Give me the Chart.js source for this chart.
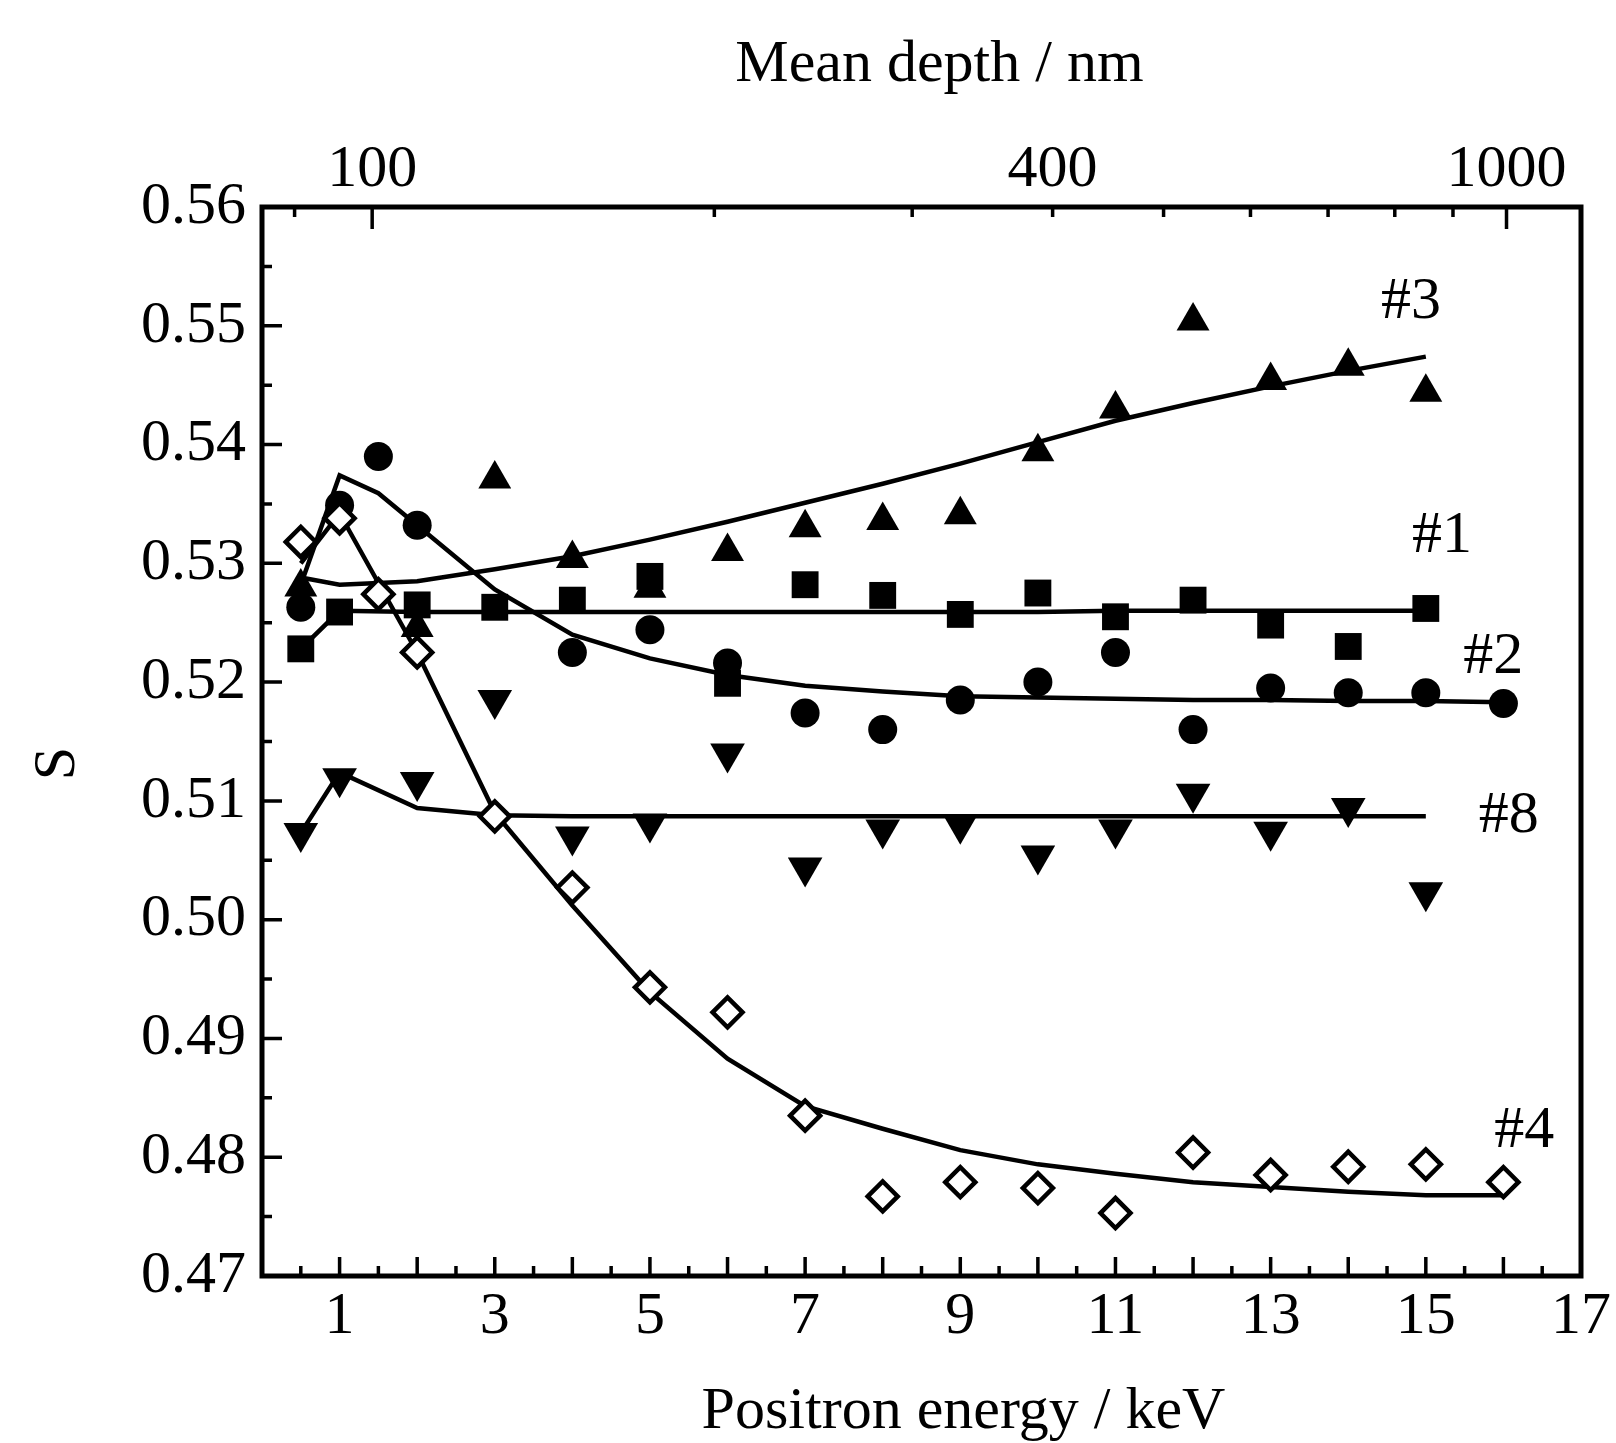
<!DOCTYPE html>
<html>
<head>
<meta charset="utf-8">
<title>S vs positron energy</title>
<script src="https://cdn.jsdelivr.net/npm/chart.js@4.4.1/dist/chart.umd.min.js"></script>
<style>
html,body{margin:0;padding:0;background:#fff;}
#wrap{width:1616px;height:1443px;}
</style>
</head>
<body>
<div id="wrap"><canvas id="sChart"></canvas></div>
<script>

/* Data: S parameter against positron energy (keV) */

// #3 filled triangles
const e3=[0.5,2,3,4,5,6,7,8,9,10,11,12,13,14,15];
const s3=[0.528,0.5246,0.5371,0.5304,0.5279,0.531,0.533,0.5336,0.5341,0.5394,0.543,0.5504,0.5454,0.5466,0.5444];

// #1 filled squares
const e1=[0.5,1,2,3,4,5,6,7,8,9,10,11,12,13,14,15];
const s1=[0.5228,0.5259,0.5265,0.5263,0.5269,0.5289,0.5199,0.5282,0.5273,0.5257,0.5275,0.5255,0.5269,0.5248,0.523,0.5262];

// #2 filled circles
const e2=[0.5,1,1.5,2,4,5,6,7,8,9,10,11,12,13,14,15,16];
const s2=[0.5263,0.5349,0.539,0.5332,0.5225,0.5244,0.5216,0.5174,0.516,0.5185,0.52,0.5225,0.516,0.5195,0.5191,0.5191,0.5182];

// #8 filled down-triangles
const e8=[0.5,1,2,3,4,5,6,7,8,9,10,11,12,13,14,15];
const s8=[0.5073,0.5119,0.5116,0.5185,0.507,0.5081,0.514,0.5044,0.5076,0.508,0.5054,0.5076,0.5106,0.5074,0.5094,0.5023];

// #4 open diamonds
const e4=[0.5,1,1.5,2,3,4,5,6,7,8,9,10,11,12,13,14,15,16];
const s4=[0.5318,0.5338,0.5274,0.5225,0.5087,0.5027,0.4943,0.4922,0.4835,0.4767,0.4779,0.4774,0.4753,0.4804,0.4785,0.4792,0.4794,0.4779];

// fitted curves
const fit3E=[0.5,1,2,3,4,5,6,7,8,9,10,11,12,13,14,15];
const fit3S=[0.5288,0.5282,0.5285,0.5295,0.5306,0.532,0.5335,0.5351,0.5367,0.5384,0.5402,0.542,0.5435,0.5449,0.5462,0.5474];

const fit1E=[0.5,1,2,3,4,5,6,7,8,9,10,11,12,13,14,15];
const fit1S=[0.5228,0.526,0.5259,0.5259,0.5259,0.5259,0.5259,0.5259,0.5259,0.5259,0.5259,0.526,0.526,0.526,0.526,0.526];

const fit2E=[0.5,1,1.5,2,3,4,5,6,7,8,9,10,11,12,13,14,15,16];
const fit2S=[0.5282,0.5374,0.5359,0.5332,0.5278,0.524,0.522,0.5206,0.5197,0.5192,0.5188,0.5187,0.5186,0.5185,0.5185,0.5184,0.5184,0.5183];

const fit8E=[0.5,1,2,3,4,5,6,7,8,9,10,11,12,13,14,15];
const fit8S=[0.5073,0.5124,0.5094,0.5088,0.5087,0.5087,0.5087,0.5087,0.5087,0.5087,0.5087,0.5087,0.5087,0.5087,0.5087,0.5087];

const fit4E=[0.5,1,2,3,4,5,6,7,8,9,10,11,12,13,14,15,16];
const fit4S=[0.530,0.5342,0.5225,0.509,0.5012,0.4939,0.4883,0.4843,0.4824,0.4806,0.4794,0.4786,0.4779,0.4775,0.4771,0.4768,0.4768];

// top axis: mean depth (nm) marks, placed at their energy
const depthLabels=["","100","","","400","","","","","","1000"];
const depthKeV=[0.42,1.42,5.83,8.38,10.19,11.62,12.74,13.74,14.6,15.35,16.04];

// curve tags and axis titles
const tagText=["#3","#1","#2","#8","#4"];
const xTitle="Positron energy / keV";
const x2Title="Mean depth / nm";
const yTitle="S";

/* Helpers */

const pts=(xs,ys)=>xs.map((v,i)=>({x:v,y:ys[i]}));

const FONT="'Liberation Serif','DejaVu Serif',serif";

Chart.defaults.font.family=FONT;
Chart.defaults.color="#000";

const markers=(label,xs,ys,style,r,extra)=>Object.assign({
label:label,
data:pts(xs,ys),
showLine:false,
pointStyle:style,
pointRadius:r,
pointHoverRadius:r,
pointBackgroundColor:"#000",
pointBorderColor:"#000",
pointBorderWidth:0
},extra||{});

const fit=(label,xs,ys)=>({
label:label,
data:pts(xs,ys),
showLine:true,
borderColor:"#000",
borderWidth:4.5,
tension:0,
pointRadius:0,
pointHoverRadius:0
});

/* Frame, inward ticks, axis titles and curve tags */

const frameTicks={

id:"frameTicks",

afterDraw(chart,args,opts){

const {ctx,chartArea:a,scales}=chart;

const x=scales.x,y=scales.y;

ctx.save();

ctx.strokeStyle="#000";

ctx.lineWidth=3.5;

ctx.beginPath();

// bottom: long every keV, short every half keV
for(let k=1;k<34;k++){

const px=x.getPixelForValue(k/2);

const len=k%2===0?19:10;

ctx.moveTo(px,a.bottom);
ctx.lineTo(px,a.bottom-len);

}

// left: long every 0.01, short in between
for(let k=1;k<18;k++){

const py=y.getPixelForValue(0.47+k*0.005);

const len=k%2===0?20:10;

ctx.moveTo(a.left,py);
ctx.lineTo(a.left+len,py);

}

// top: depth marks
depthKeV.forEach((v,i)=>{

const px=x.getPixelForValue(v);

const len=(depthLabels[i]==="100"||depthLabels[i]==="1000")?22:10;

ctx.moveTo(px,a.top);
ctx.lineTo(px,a.top+len);

});

ctx.stroke();

ctx.lineWidth=5;

ctx.strokeRect(a.left,a.top,a.width,a.height);

ctx.fillStyle="#000";
ctx.font="60px "+FONT;
ctx.textAlign="center";
ctx.textBaseline="middle";

// axis titles
const cx=(a.left+a.right)/2;

ctx.fillText(xTitle,cx+opts.xTitleShift,a.bottom+136);

ctx.fillText(x2Title,cx+opts.x2TitleShift,a.top-142);

ctx.save();
ctx.translate(a.left-204,(a.top+a.bottom)/2+22);
ctx.rotate(-Math.PI/2);
ctx.fillText(yTitle,0,0);
ctx.restore();

// curve tags
opts.tags.forEach((t,i)=>{

ctx.fillText(tagText[i],x.getPixelForValue(t[0]),y.getPixelForValue(t[1]));

});

ctx.restore();

}

};

/* Chart */

new Chart(document.getElementById("sChart"),{

type:"scatter",

data:{

datasets:[

markers("#4 data",e4,s4,"rectRot",15,{pointBackgroundColor:"#fff",pointBorderWidth:4.5}),

markers("#3 data",e3,s3,"triangle",19),

markers("#1 data",e1,s1,"rect",19),

markers("#2 data",e2,s2,"circle",14.5),

markers("#8 data",e8,s8,"triangle",20,{pointRotation:180}),

fit("#3 fit",fit3E,fit3S),

fit("#1 fit",fit1E,fit1S),

fit("#2 fit",fit2E,fit2S),

fit("#8 fit",fit8E,fit8S),

fit("#4 fit",fit4E,fit4S)

]

},

options:{

responsive:true,

maintainAspectRatio:false,

animation:false,

layout:{padding:{right:35}},

plugins:{

legend:{display:false},

tooltip:{enabled:false},

frameTicks:{

xTitleShift:42,

x2TitleShift:18,

tags:[[14.81,0.552],[15.21,0.5323],[15.87,0.5221],[16.07,0.5087],[16.27,0.4822]]

}

},

scales:{

x:{

type:"linear",

position:"bottom",

min:0,

max:17,

afterFit:s=>{s.height=167;},

grid:{display:false,drawTicks:false},

border:{display:false},

ticks:{

stepSize:1,

autoSkip:false,

maxRotation:0,

padding:5,

font:{size:60},

callback:v=>v%2===1?String(v):""

}

},

x2:{

type:"linear",

position:"top",

min:0,

max:17,

afterFit:s=>{s.height=207;},

afterBuildTicks:s=>{s.ticks=depthKeV.map(v=>({value:v}));},

grid:{display:false,drawTicks:false},

border:{display:false},

ticks:{

autoSkip:false,

maxRotation:0,

padding:1,

font:{size:60},

callback:(v,i)=>depthLabels[i]

}

},

y:{

type:"linear",

position:"left",

min:0.47,

max:0.56,

afterFit:s=>{s.width=262;},

grid:{display:false,drawTicks:false},

border:{display:false},

ticks:{

stepSize:0.01,

padding:16,

font:{size:60},

callback:v=>v.toFixed(2)

}

}

}

},

plugins:[frameTicks]

});

</script>
</body>
</html>
